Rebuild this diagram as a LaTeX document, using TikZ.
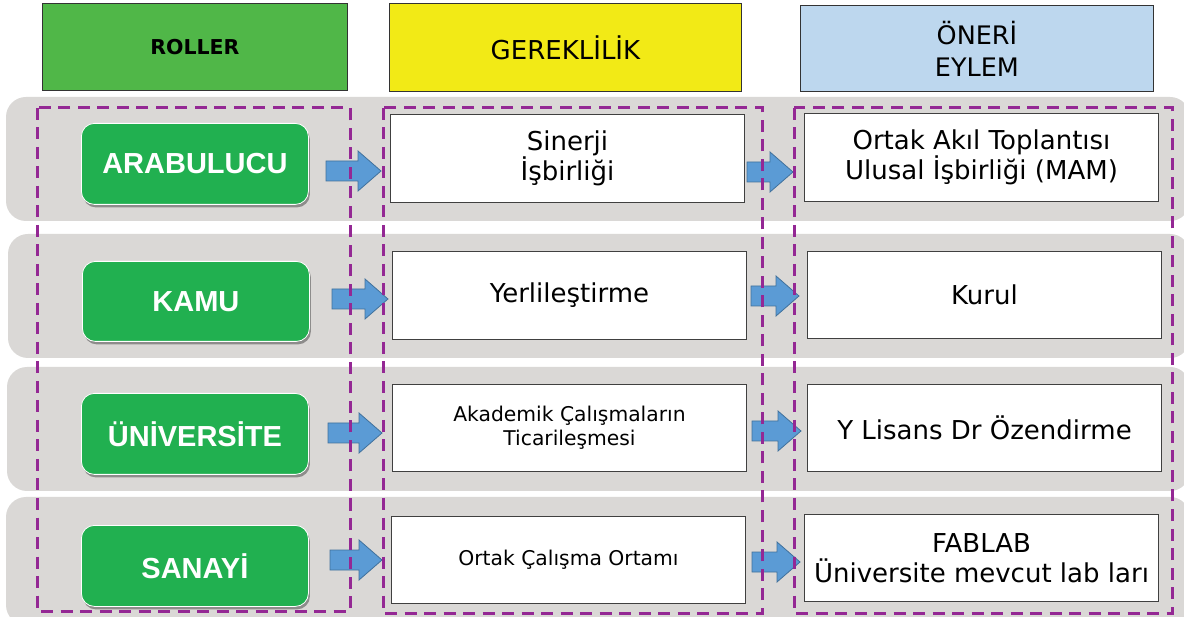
\documentclass[tikz,border=0pt]{standalone}
\usepackage{fontspec}
\setmainfont{DejaVu Sans}
\newfontfamily\rolefont{Liberation Sans}
\usetikzlibrary{shadows}
\definecolor{hdrgreen}{RGB}{80,183,72}
\definecolor{hdryellow}{RGB}{242,234,22}
\definecolor{hdrblue}{RGB}{189,215,238}
\definecolor{rowgray}{RGB}{218,216,214}
\definecolor{rolegreen}{RGB}{33,176,80}
\definecolor{arrblue}{RGB}{91,155,213}
\definecolor{arredge}{RGB}{65,113,156}
\definecolor{dashpurple}{RGB}{148,40,148}
\newcommand\blkarrow[3]{%
  \draw[blockarrow] (#1,#3-10) -- (#2-23,#3-10) -- (#2-23,#3-20) -- (#2,#3)
    -- (#2-23,#3+20) -- (#2-23,#3+10) -- (#1,#3+10) -- cycle;}
\tikzset{
  hdr/.style={draw=black!80, line width=0.9pt, anchor=north west, inner sep=0pt, align=center, text=black},
  rolebox/.style={fill=rolegreen, draw=white, line width=0.8pt, rounded corners=13pt, anchor=north west,
    inner sep=0pt, minimum width=227pt, text=white,
    font=\rolefont\bfseries\fontsize{29}{32}\selectfont,
    drop shadow={shadow xshift=1.5pt, shadow yshift=-3pt, opacity=0.35, fill=black}},
  whitebox/.style={fill=white, draw=black!75, line width=1pt, anchor=north west, inner sep=0pt,
    minimum width=354pt, align=center, text=black},
  bigtxt/.style={font=\fontsize{26}{30}\selectfont},
  smalltxt/.style={font=\fontsize{20.3}{24}\selectfont},
  blockarrow/.style={fill=arrblue, draw=arredge, line width=0.8pt, line join=miter},
  dashbox/.style={draw=dashpurple, line width=3pt, dash pattern=on 12pt off 7.5pt},
}
\begin{document}
\begin{tikzpicture}[x=1pt, y=-1pt]
\useasboundingbox (0,0) rectangle (1184,617);
\fill[white] (0,0) rectangle (1184,617);
% gray rows
\fill[rowgray, rounded corners=20pt] (6,97) rectangle (1190,221);
\fill[rowgray, rounded corners=20pt] (8,234) rectangle (1190,358);
\fill[rowgray, rounded corners=20pt] (7,367) rectangle (1190,491);
\fill[rowgray, rounded corners=20pt] (6,497) rectangle (1190,625);
% headers
\node[hdr, fill=hdrgreen, minimum width=305pt, minimum height=87pt,
  font=\bfseries\fontsize{20.5}{24}\selectfont] (hRoles) at (42,3) {ROLLER};
\node[hdr, fill=hdryellow, minimum width=352pt, minimum height=88pt,
  font=\fontsize{26}{30}\selectfont] (hNeed) at (389,3) {GEREKLİLİK};
\node[hdr, fill=hdrblue, minimum width=353pt, minimum height=86pt,
  font=\fontsize{25.5}{32}\selectfont] (hAct) at (800,5) {ÖNERİ\\EYLEM};
% roles
\node[rolebox, minimum height=81pt] (role1) at (81,123) {ARABULUCU};
\node[rolebox, minimum height=80pt] (role2) at (82,261) {KAMU};
\node[rolebox, minimum height=81pt] (role3) at (81,393) {ÜNİVERSİTE};
\node[rolebox, minimum height=81pt] (role4) at (81,525) {SANAYİ};
% needs
\node[whitebox, bigtxt, minimum height=88pt] (need1) at (390,114) {Sinerji\\İşbirliği};
\node[whitebox, bigtxt, minimum height=88pt] (need2) at (392,251) {Yerlileştirme};
\node[whitebox, smalltxt, minimum height=87pt] (need3) at (392,384) {Akademik Çalışmaların\\Ticarileşmesi};
\node[whitebox, smalltxt, minimum height=87pt] (need4) at (391,516) {Ortak Çalışma Ortamı};
% actions
\node[whitebox, bigtxt, minimum height=88pt] (act1) at (804,113) {Ortak Akıl Toplantısı\\Ulusal İşbirliği (MAM)};
\node[whitebox, bigtxt, minimum height=87pt] (act2) at (807,251) {Kurul};
\node[whitebox, bigtxt, minimum height=87pt] (act3) at (807,384) {Y Lisans Dr Özendirme};
\node[whitebox, bigtxt, minimum height=87pt] (act4) at (804,514) {FABLAB\\Üniversite mevcut lab ları};
% block arrows
\blkarrow{326}{381}{171}
\blkarrow{747}{793}{172}
\blkarrow{332}{388}{299}
\blkarrow{751}{799}{296}
\blkarrow{328}{382}{433}
\blkarrow{752}{801}{431}
\blkarrow{330}{382}{560}
\blkarrow{752}{800}{562}
% dashed groups
\draw[dashbox] (37,108) rectangle (350,611);
\draw[dashbox] (383,108) rectangle (762,613);
\draw[dashbox] (794,108) rectangle (1172,613);
\end{tikzpicture}
\end{document}
